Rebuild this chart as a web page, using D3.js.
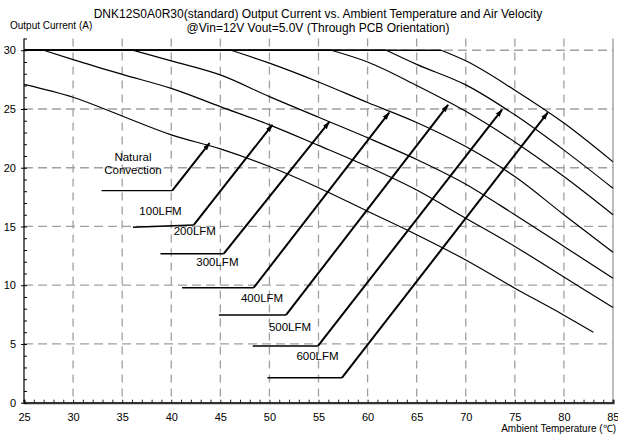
<!DOCTYPE html>
<html>
<head>
<meta charset="utf-8">
<script src="https://cdn.jsdelivr.net/npm/d3@7"></script>
<style>
  body { margin: 0; background: #fff; }
  svg { display: block; font-family: "Liberation Sans", Arial, sans-serif; }
</style>
</head>
<body>
<svg id="chart" width="618" height="434"></svg>
<script>
const MARGIN = { top: 38.5, right: 5, bottom: 31.3, left: 24 };

// curves: [temperature, current]
const naturalConv = [[25, 27.1], [30, 26.0], [35, 24.4], [40, 22.8], [45, 21.6], [50, 20.1], [55, 18.3], [60, 16.3], [65, 14.3], [70, 12.15], [75, 9.75], [80, 7.45], [83, 6.0]];
const lfm100 = [[27, 30], [30, 29.2], [35, 27.95], [40, 26.75], [45, 25.2], [50, 23.65], [55, 21.9], [60, 20.1], [65, 18.1], [70, 15.7], [75, 13.3], [80, 10.7], [85, 8.1]];
const lfm200 = [[36.1, 30], [40, 29.1], [45, 27.9], [50, 26.05], [55, 24.3], [60, 22.55], [65, 20.7], [70, 18.6], [75, 16.0], [80, 13.3], [85, 10.6]];
const lfm300 = [[46.1, 30], [50, 28.9], [55, 27.3], [60, 25.55], [65, 23.85], [70, 21.8], [75, 19.25], [80, 16.0], [85, 12.8]];
const lfm400 = [[56.3, 30], [60, 29.0], [65, 27.0], [70, 24.8], [75, 22.2], [80, 19.25], [85, 16.0]];
const lfm500 = [[61.9, 30], [65, 28.8], [70, 27.05], [75, 24.5], [80, 21.5], [85, 18.25]];
const lfm600 = [[67.5, 30], [70, 29.1], [75, 26.6], [80, 23.8], [85, 20.5]];

const curves = [naturalConv, lfm100, lfm200, lfm300, lfm400, lfm500, lfm600];

// call-out labels and their leader arrows, in data units
const labelNames = [["Natural", "Convection"], ["100LFM"], ["200LFM"], ["300LFM"], ["400LFM"], ["500LFM"], ["600LFM"]];
const labelPos = [[36.1, 20.05], [38.9, 16.0], [42.4, 14.3], [44.7, 11.6], [49.25, 8.6], [52.1, 6.1], [54.9, 3.6]];
const leaderTail = [[32.9, 18.05], [36.1, 14.93], [38.9, 12.68], [41.1, 9.79], [44.85, 7.47], [48.3, 4.83], [49.8, 2.13]];
const leaderBend = [[40.1, 18.05], [42.3, 15.13], [45.35, 12.68], [48.4, 9.79], [51.7, 7.47], [54.95, 4.83], [57.4, 2.13]];
const arrowTip = [[43.9, 22.1], [50.3, 23.65], [56.1, 23.9], [62.2, 24.7], [68.2, 25.35], [73.7, 24.95], [78.35, 24.7]];

const xTicks = d3.range(25, 86, 5);
const yTicks = d3.range(0, 31, 5);

const titleLines = [
  "DNK12S0A0R30(standard)  Output Current vs. Ambient Temperature and Air Velocity",
  "@Vin=12V Vout=5.0V (Through PCB Orientation)"
];

function drawChart() {
  const svg = d3.select("#chart");
  const W = +svg.attr("width");
  const H = +svg.attr("height");
  const width = W - MARGIN.left - MARGIN.right;
  const height = H - MARGIN.top - MARGIN.bottom;

  svg.append("defs").append("marker")
    .attr("id", "head")
    .attr("markerUnits", "userSpaceOnUse")
    .attr("viewBox", "0 -4 10 8")
    .attr("refX", 9)
    .attr("refY", 0)
    .attr("markerWidth", 8)
    .attr("markerHeight", 6.4)
    .attr("orient", "auto")
    .append("path")
    .attr("d", "M0,-3.2L10,0L0,3.2Z")
    .attr("fill", "#000");

  const g = svg.append("g")
    .attr("transform", "translate(" + MARGIN.left + "," + MARGIN.top + ")");

  const x = d3.scaleLinear().domain([25, 85]).range([0, width]);
  const y = d3.scaleLinear().domain([0, 31]).range([height, 0]);

  // dashed grid
  g.append("g")
    .selectAll("line")
    .data(xTicks.slice(1, -1))
    .join("line")
    .attr("x1", d => x(d)).attr("x2", d => x(d))
    .attr("y1", y(31)).attr("y2", y(0))
    .attr("stroke", "#a0a0a0")
    .attr("stroke-width", 1.3)
    .attr("stroke-dasharray", "8,6");
  g.append("g")
    .selectAll("line")
    .data(yTicks.slice(1))
    .join("line")
    .attr("x1", x(25)).attr("x2", x(85))
    .attr("y1", d => y(d)).attr("y2", d => y(d))
    .attr("stroke", "#a0a0a0")
    .attr("stroke-width", 1.3)
    .attr("stroke-dasharray", "9,5");

  // right frame
  g.append("line")
    .attr("x1", x(85)).attr("x2", x(85))
    .attr("y1", y(31)).attr("y2", y(0))
    .attr("stroke", "#909090")
    .attr("stroke-width", 1.2);

  // x axis: minor ticks then labels
  g.append("g")
    .attr("transform", "translate(0," + height + ")")
    .call(d3.axisBottom(x).tickValues(d3.range(25, 86, 1)).tickSize(-3).tickFormat(""))
    .call(a => a.selectAll(".tick line").attr("stroke", "#222").attr("stroke-width", 1))
    .call(a => a.select(".domain").attr("stroke", "#333").attr("stroke-width", 2.2));
  g.append("g")
    .attr("transform", "translate(0," + height + ")")
    .call(d3.axisBottom(x).tickValues(xTicks).tickSize(0).tickPadding(11))
    .call(a => a.select(".domain").remove())
    .call(a => a.selectAll("text").attr("font-size", 11).attr("fill", "#000").attr("font-family", "Liberation Sans, Arial, sans-serif"))
    .call(a => a.selectAll("text").filter(d => d === 85).attr("text-anchor", "end").attr("dx", 6));

  // y axis
  g.append("g")
    .call(d3.axisRight(y).tickValues(d3.range(0, 32, 1)).tickSize(3).tickFormat(""))
    .call(a => a.selectAll(".tick line").attr("stroke", "#000"))
    .call(a => a.select(".domain").attr("stroke", "#000").attr("stroke-width", 1.2).attr("d", "M0," + y(31) + "V" + y(0)));
  g.append("g")
    .call(d3.axisLeft(y).tickValues(yTicks).tickSize(3).tickPadding(5))
    .call(a => a.select(".domain").remove())
    .call(a => a.selectAll(".tick line").attr("stroke", "#000"))
    .call(a => a.selectAll("text").attr("font-size", 11).attr("fill", "#000").attr("font-family", "Liberation Sans, Arial, sans-serif"));

  // curves: flat 30 A part, then the derating part
  const line = d3.line().x(d => x(d[0])).y(d => y(d[1])).curve(d3.curveMonotoneX);
  const flat = curves.filter(c => c[0][1] === 30).map(c => [[25, 30], c[0]]);
  g.append("g")
    .selectAll("path")
    .data(flat)
    .join("path")
    .attr("d", d3.line().x(d => x(d[0])).y(d => y(d[1])))
    .attr("fill", "none")
    .attr("stroke", "#000")
    .attr("stroke-width", 1.3);
  g.append("g")
    .selectAll("path")
    .data(curves)
    .join("path")
    .attr("d", line)
    .attr("fill", "none")
    .attr("stroke", "#000")
    .attr("stroke-width", 1.2);

  // leader lines with arrows
  const ann = g.append("g");
  ann.selectAll("line.tail")
    .data(leaderTail)
    .join("line")
    .attr("class", "tail")
    .attr("x1", d => x(d[0])).attr("y1", d => y(d[1]))
    .attr("x2", (d, i) => x(leaderBend[i][0])).attr("y2", (d, i) => y(leaderBend[i][1]))
    .attr("stroke", "#000")
    .attr("stroke-width", 1.4);
  ann.selectAll("line.arrow")
    .data(leaderBend)
    .join("line")
    .attr("class", "arrow")
    .attr("x1", d => x(d[0])).attr("y1", d => y(d[1]))
    .attr("x2", (d, i) => x(arrowTip[i][0])).attr("y2", (d, i) => y(arrowTip[i][1]))
    .attr("stroke", "#000")
    .attr("stroke-width", 2)
    .attr("marker-end", "url(#head)");

  const labels = ann.selectAll("text")
    .data(labelNames)
    .join("text")
    .attr("text-anchor", "middle")
    .attr("font-size", 11.5)
    .attr("fill", "#000")
    .attr("x", (d, i) => x(labelPos[i][0]))
    .attr("y", (d, i) => y(labelPos[i][1]) - (d.length - 1) * 6.5)
    .attr("dy", "0.35em");
  labels.selectAll("tspan")
    .data((d, i) => d.map(t => ({ t, i })))
    .join("tspan")
    .attr("x", d => x(labelPos[d.i][0]))
    .attr("dy", (d, j) => j === 0 ? 0 : 13.5)
    .text(d => d.t);

  // titles
  svg.selectAll("text.title")
    .data(titleLines)
    .join("text")
    .attr("class", "title")
    .attr("x", 318)
    .attr("y", (d, i) => 18 + i * 14)
    .attr("text-anchor", "middle")
    .attr("font-size", 12)
    .text(d => d);

  svg.append("text")
    .attr("x", 10)
    .attr("y", 29)
    .attr("font-size", 10)
    .text("Output Current (A)");

  svg.append("text")
    .attr("x", 616)
    .attr("y", 432)
    .attr("text-anchor", "end")
    .attr("font-size", 10)
    .text("Ambient Temperature (℃)");
}

drawChart();
</script>
</body>
</html>
